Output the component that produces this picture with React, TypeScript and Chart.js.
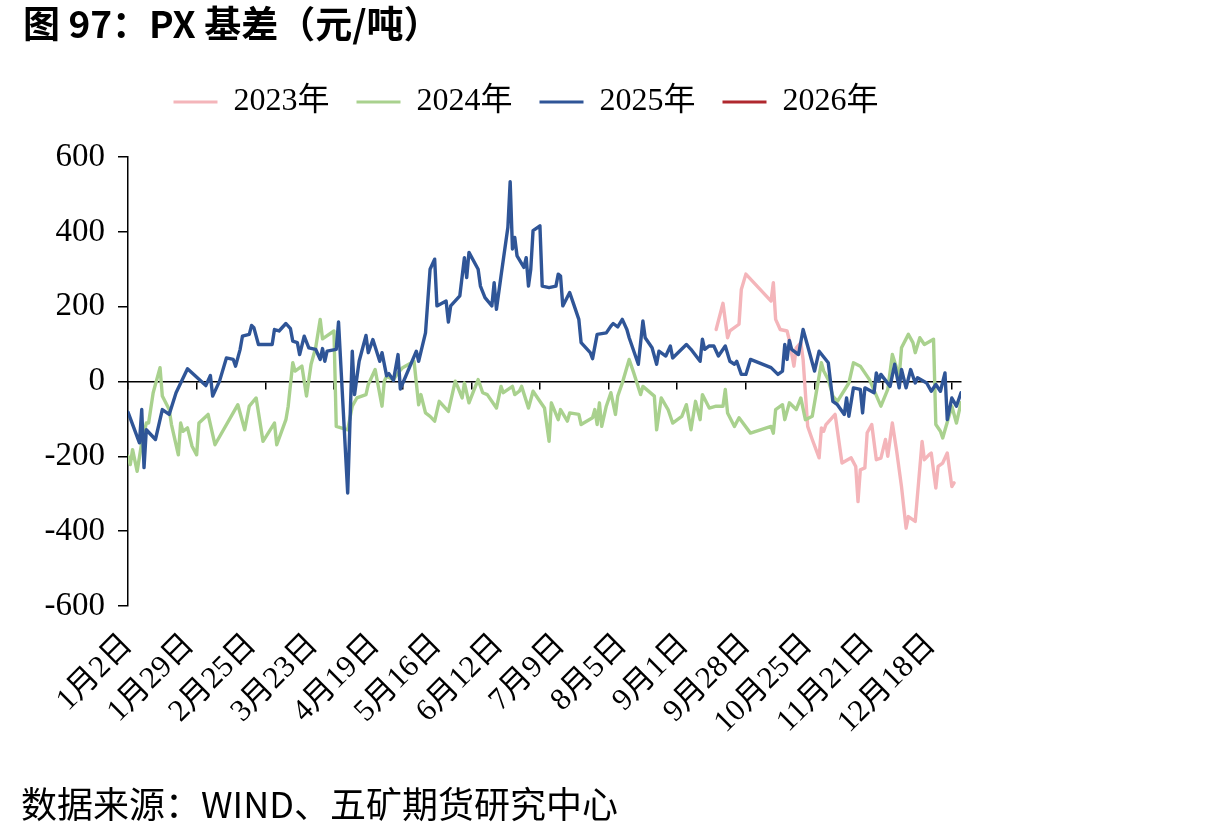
import React, { useEffect, useRef } from 'react';
import { Chart, registerables } from 'chart.js';

Chart.register(...registerables);

// Category ticks (day offset from 1月2日, leap-year calendar)
const xLabelDays = [0, 27, 54, 81, 108, 135, 162, 189, 216, 243, 270, 297, 324, 351];
const xTickLabels = ['1月2日', '1月29日', '2月25日', '3月23日', '4月19日', '5月16日', '6月12日', '7月9日', '8月5日', '9月1日', '9月28日', '10月25日', '11月21日', '12月18日'];
const xMarkDays = [0, 30, 60, 90, 120, 150, 180, 210, 240, 270, 300, 330, 360];
const yTickValues = [-600, -400, -200, 0, 200, 400, 600];

const seriesNames = ['2023年', '2024年', '2025年', '2026年'];
const seriesColors = ['#F4B5BA', '#A9D18E', '#2F5597', '#B0282E'];

const days2023 = [257, 260, 262, 263, 267, 268, 270, 281, 282, 283, 285, 288, 289, 291, 292, 294, 295, 297, 299, 302, 303, 304, 305, 309, 312, 316, 318, 319, 320, 322, 323, 325, 327, 329, 331, 332, 334, 336, 338, 340, 341, 344, 347, 348, 350, 351, 353, 354, 356, 358, 360, 361];
const vals2023 = [139, 209, 117, 135, 153, 246, 287, 215, 264, 166, 139, 135, 110, 41, 90, 104, 59, -120, -155, -204, -124, -133, -115, -88, -218, -204, -227, -321, -236, -231, -137, -115, -209, -205, -155, -200, -111, -191, -281, -392, -361, -374, -160, -209, -196, -191, -285, -227, -218, -191, -281, -271];

const days2024 = [0, 1, 2, 4, 6, 8, 9, 11, 14, 15, 18, 19, 22, 23, 24, 26, 28, 30, 31, 35, 38, 48, 51, 53, 56, 59, 64, 65, 69, 70, 72, 73, 76, 78, 80, 82, 84, 85, 90, 91, 96, 98, 100, 104, 105, 108, 111, 112, 113, 116, 118, 120, 125, 127, 128, 130, 132, 134, 136, 140, 143, 144, 146, 147, 149, 151, 153, 155, 157, 161, 163, 164, 168, 169, 171, 172, 175, 177, 179, 182, 184, 185, 188, 189, 192, 193, 197, 198, 203, 204, 205, 206, 207, 209, 211, 213, 214, 216, 219, 221, 224, 225, 230, 231, 233, 236, 238, 242, 244, 246, 248, 250, 251, 254, 257, 260, 261, 262, 265, 267, 272, 281, 282, 283, 286, 287, 289, 292, 294, 296, 299, 301, 303, 304, 306, 308, 310, 315, 317, 320, 324, 329, 332, 334, 337, 338, 341, 343, 344, 346, 348, 352, 353, 355, 356, 360, 362, 364];
const vals2024 = [-200, -222, -182, -240, -164, -111, -111, -30, 37, -39, -75, -115, -196, -111, -133, -124, -173, -196, -111, -88, -169, -62, -129, -66, -44, -160, -111, -169, -102, -66, 50, 28, 41, -39, 46, 90, 166, 114, 135, -120, -129, -66, -44, -35, -8, 32, -66, 1, 14, 5, 23, 37, 54, -62, -35, -84, -93, -106, -53, -80, 1, -13, -44, -4, -57, -26, 5, -30, -35, -71, -13, -30, -13, -35, -26, -13, -71, -26, -44, -71, -160, -57, -102, -75, -106, -84, -88, -115, -97, -75, -115, -57, -120, -66, -30, -88, -39, -4, 59, 23, -35, -13, -39, -129, -44, -75, -111, -93, -62, -129, -53, -102, -35, -71, -66, -66, -21, -84, -120, -97, -138, -120, -138, -75, -62, -102, -57, -75, -44, -102, -93, -21, 50, 28, 5, -39, -53, -4, 50, 41, 5, -66, -21, 72, 14, 90, 126, 104, 77, 117, 99, 113, -115, -133, -151, -66, -111, -57];

const days2025 = [0, 5, 6, 7, 8, 12, 15, 18, 21, 26, 34, 36, 37, 40, 43, 46, 47, 49, 50, 53, 54, 55, 57, 63, 64, 66, 69, 71, 72, 74, 75, 77, 79, 82, 84, 85, 86, 87, 91, 92, 96, 98, 99, 101, 104, 105, 107, 110, 111, 113, 114, 116, 118, 119, 126, 127, 130, 132, 134, 135, 139, 140, 141, 145, 147, 148, 149, 153, 154, 156, 159, 160, 161, 163, 166, 167, 168, 169, 170, 173, 174, 175, 176, 177, 180, 181, 184, 187, 188, 189, 190, 193, 195, 197, 198, 202, 203, 205, 209, 211, 212, 214, 216, 218, 219, 223, 225, 226, 229, 231, 232, 235, 237, 238, 244, 246, 250, 251, 252, 254, 256, 258, 261, 263, 265, 266, 268, 270, 272, 281, 284, 286, 287, 288, 289, 290, 293, 295, 297, 300, 302, 306, 308, 310, 313, 314, 315, 317, 320, 321, 322, 326, 327, 328, 329, 333, 335, 337, 338, 340, 342, 344, 345, 349, 351, 353, 355, 357, 358, 360, 362, 364];
const vals2025 = [-82, -164, -75, -230, -129, -155, -75, -88, -30, 34, -11, 16, -39, 1, 63, 59, 41, 86, 121, 126, 150, 144, 99, 99, 139, 135, 155, 141, 108, 104, 72, 121, 90, 86, 59, 88, 54, 81, 86, 159, -298, 81, -35, 54, 123, 77, 112, 54, 77, 15, 21, 3, 72, -20, 81, 54, 130, 300, 327, 202, 215, 159, 202, 229, 331, 278, 345, 300, 255, 224, 202, 264, 193, 282, 412, 534, 354, 385, 336, 305, 331, 255, 300, 403, 416, 255, 251, 255, 287, 282, 202, 238, 202, 166, 104, 77, 61, 126, 130, 148, 155, 146, 166, 139, 117, 46, 162, 117, 90, 46, 81, 68, 95, 63, 99, 86, 54, 113, 86, 95, 95, 68, 95, 54, 46, 54, 19, 19, 59, 37, 19, 28, 99, 59, 110, 86, 72, 139, 95, 28, 81, 50, -53, -62, -88, -44, -93, -17, -21, -84, -17, -30, 23, 1, 19, -13, 46, -17, 32, -17, 32, -4, 10, -4, -26, -8, -26, 23, -102, -44, -66, -30];

const days2026: number[] = [];
const vals2026: number[] = [];

const seriesDays = [days2023, days2024, days2025, days2026];
const seriesVals = [vals2023, vals2024, vals2025, vals2026];

const axisFont = "'Liberation Serif', 'Noto Sans CJK SC', serif";

const legendSpacer = {
  id: 'legendSpacer',
  beforeLayout(chart: any) {
    const lg = chart.legend;
    if (lg && !lg.__spaced) {
      const orig = lg.fit.bind(lg);
      lg.fit = () => {
        orig();
        lg.height += 29;
      };
      lg.__spaced = true;
    }
  },
};

export default function App() {
  const ref = useRef<HTMLCanvasElement | null>(null);

  useEffect(() => {
    if (!ref.current) return;
    const datasets = seriesNames.map((name, i) => ({
      label: name,
      data: seriesDays[i].map((d, k) => ({ x: d, y: seriesVals[i][k] })),
      borderColor: seriesColors[i],
      backgroundColor: seriesColors[i],
      borderWidth: 3.4,
      pointRadius: 0,
      pointHoverRadius: 0,
      tension: 0,
      borderJoinStyle: 'round' as const,
      borderCapStyle: 'round' as const,
      xAxisID: 'x',
      yAxisID: 'y',
      order: 3 - i,
    }));

    const chart = new Chart(ref.current, {
      type: 'line',
      data: { datasets },
      options: {
        animation: false,
        responsive: false,
        events: [],
        layout: { padding: { left: 8, right: 16, top: 59, bottom: 82 } },
        plugins: {
          tooltip: { enabled: false },
          legend: {
            display: true,
            position: 'top',
            align: 'center',
            labels: {
              boxWidth: 44,
              boxHeight: 3,
              padding: 27,
              color: '#000',
              font: { family: axisFont, size: 32 },
              sort: (a: any, b: any) => a.datasetIndex - b.datasetIndex,
              generateLabels: (c: any) =>
                (Chart.defaults.plugins.legend.labels.generateLabels as any)(c).map((l: any) => ({ ...l, lineWidth: 0 })),
            },
          },
        },
        scales: {
          x: {
            type: 'linear',
            min: 0,
            max: 364,
            position: { y: 0 } as any,
            afterBuildTicks: (s: any) => {
              s.ticks = xMarkDays.map((v) => ({ value: v }));
            },
            ticks: { display: false },
            grid: { drawOnChartArea: false, drawTicks: true, tickLength: 7, color: '#000', lineWidth: 1.5 },
            border: { display: true, color: '#000', width: 1.5 },
          },
          x2: {
            type: 'linear',
            axis: 'x',
            position: 'bottom',
            min: 0,
            max: 364,
            afterBuildTicks: (s: any) => {
              s.ticks = xLabelDays.map((v) => ({ value: v }));
            },
            afterFit: (s: any) => {
              s.height = 150;
              s.paddingLeft = 0;
              s.paddingRight = 0;
            },
            ticks: {
              autoSkip: false,
              minRotation: 45,
              maxRotation: 45,
              padding: 13,
              color: '#000',
              font: { family: axisFont, size: 31 },
              callback: (_v: any, i: number) => xTickLabels[i],
            },
            grid: { display: false },
            border: { display: false },
          },
          y: {
            type: 'linear',
            position: 'left',
            min: -600,
            max: 600,
            afterBuildTicks: (s: any) => {
              s.ticks = yTickValues.map((v) => ({ value: v }));
            },
            afterFit: (s: any) => {
              s.width = 120;
            },
            ticks: {
              padding: 13,
              color: '#000',
              font: { family: axisFont, size: 33 },
              callback: (v: any) => String(v),
            },
            grid: { drawOnChartArea: false, drawTicks: true, tickLength: 10, color: '#000', lineWidth: 1.5 },
            border: { display: true, color: '#000', width: 1.5 },
          },
          yPad: {
            type: 'linear',
            axis: 'y',
            position: 'right',
            min: -600,
            max: 600,
            display: true,
            afterFit: (s: any) => {
              s.width = 83;
            },
            ticks: { display: false },
            grid: { display: false },
            border: { display: false },
          },
        },
      } as any,
      plugins: [legendSpacer as any],
    });
    return () => chart.destroy();
  }, []);

  return (
    <div style={{ position: 'absolute', left: 0, top: 0, width: 1217, height: 838, background: '#fff', overflow: 'hidden' }}>
      <canvas ref={ref} width={1060} height={838} style={{ position: 'absolute', left: 0, top: 0, width: 1060, height: 838 }} />
      <div
        style={{
          position: 'absolute',
          left: 23,
          top: 4,
          fontFamily: "'Noto Sans CJK SC', sans-serif",
          fontWeight: 700,
          fontSize: 37,
          lineHeight: '37px',
          whiteSpace: 'nowrap',
          color: '#000',
        }}
      >
        图 97：PX 基差（元/吨）
      </div>
      <div
        style={{
          position: 'absolute',
          left: 21,
          top: 784,
          fontFamily: "'Noto Sans CJK SC', sans-serif",
          fontWeight: 400,
          fontSize: 36,
          lineHeight: '36px',
          whiteSpace: 'nowrap',
          color: '#000',
        }}
      >
        数据来源：WIND、五矿期货研究中心
      </div>
    </div>
  );
}
